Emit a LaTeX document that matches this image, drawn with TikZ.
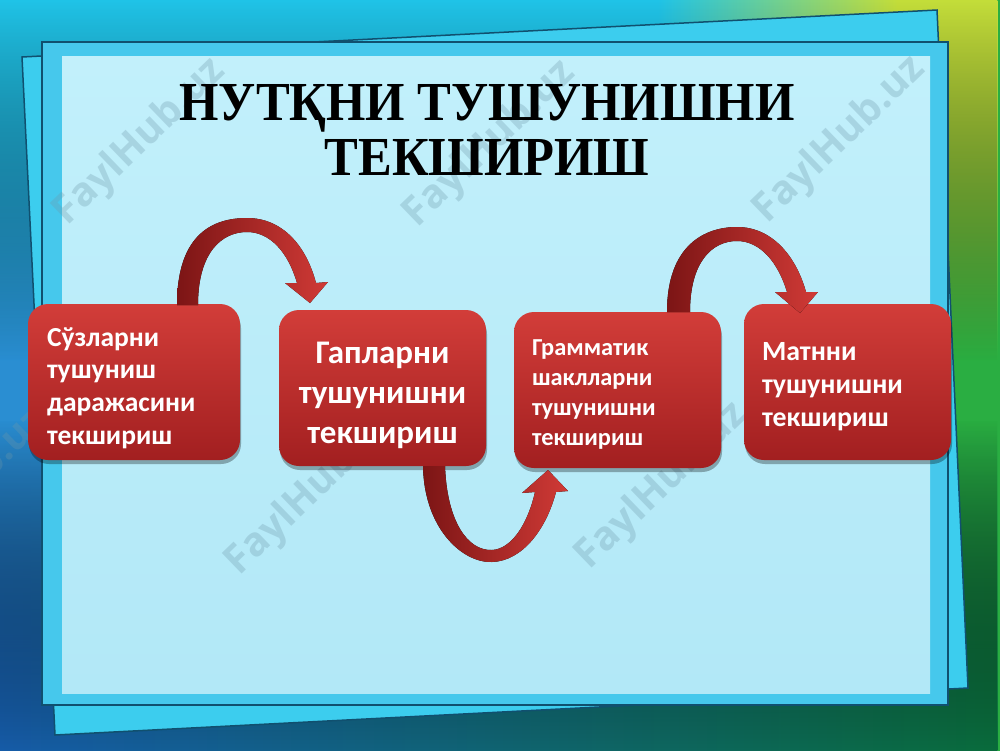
\documentclass[tikz,border=0pt]{standalone}
\usepackage{fontspec}
\setmainfont{Liberation Serif}
\newfontfamily\titlefont{Liberation Serif}[FakeStretch=0.92]
\newfontfamily\boxfont{Carlito}
\newfontfamily\wmfont{Open Sans}
\usetikzlibrary{shadows,fadings}
\definecolor{bgcyan}{HTML}{20C4E8}
\definecolor{bgyellow}{HTML}{C4DE3A}
\definecolor{bgblue}{HTML}{2A8ED2}
\definecolor{bggreen}{HTML}{2AAE42}
\definecolor{bgdblue}{HTML}{165CA8}
\definecolor{bgdgreen}{HTML}{0A6C3C}
\definecolor{sheetback}{HTML}{3CCDEE}
\definecolor{sheetline}{HTML}{10506F}
\definecolor{frameband}{HTML}{46C8EC}
\definecolor{paneltop}{HTML}{C2F0FB}
\definecolor{panelbot}{HTML}{B2E8F7}
\definecolor{boxtop}{HTML}{D23D39}
\definecolor{boxbot}{HTML}{A21F20}
\definecolor{arrdark}{HTML}{7C1515}
\definecolor{arrred}{HTML}{D03A36}
\definecolor{wmcolor}{HTML}{6E98AA}
\pgfdeclarehorizontalshading{topband}{100bp}{color(0bp)=(bgcyan); color(58bp)=(bgcyan); color(70bp)=(bgyellow); color(100bp)=(bgyellow)}
\pgfdeclarehorizontalshading{midband}{100bp}{color(0bp)=(bgblue); color(55bp)=(bgblue); color(70bp)=(bggreen); color(100bp)=(bggreen)}
\tikzset{
  redbox/.style={rectangle, rounded corners=20pt, top color=boxtop, bottom color=boxbot,
    draw=none, minimum height=156pt, inner sep=0pt,
    drop shadow={shadow xshift=1pt, shadow yshift=-4pt, opacity=0.3, fill=black}},
  boxtext/.style={text=white, inner sep=0pt},
  watermark/.style={rotate=44, text=wmcolor, opacity=0.3, font=\wmfont\bfseries\fontsize{40}{40}\selectfont},
  ribbon/.style={left color=arrdark, right color=arrred, draw=none}
}
\begin{document}
\begin{tikzpicture}[x=1pt,y=-1pt]
\useasboundingbox (0,0) rectangle (1000,750);
% background
\fill[shading=midband] (0,0) rectangle (1000,750);
\fill[shading=topband, path fading=south] (0,0) rectangle (1000,360);
\fill[left color=bgdblue, right color=bgdgreen, path fading=north] (0,420) rectangle (1000,750);
% back sheet
\filldraw[fill=sheetback, draw=sheetline, line width=1.5pt] (22,57) -- (937,10) -- (968,688) -- (55,735) -- cycle;
% front sheet
\filldraw[fill=frameband, draw=sheetline, line width=2pt] (42,42) rectangle (948,705);
\fill[top color=paneltop, bottom color=panelbot] (62,56) rectangle (930,693);
% watermarks
\node[watermark] (w1) at (140,142) {FaylHub.uz};
\node[watermark] (w2) at (490,144) {FaylHub.uz};
\node[watermark] (w3) at (840,140) {FaylHub.uz};
\node[watermark] (w4) at (-38,492) {FaylHub.uz};
\node[watermark] (w5) at (312,492) {FaylHub.uz};
\node[watermark] (w6) at (662,486) {FaylHub.uz};
% title
\node[align=center, inner sep=0pt, font=\titlefont\bfseries\fontsize{55}{55}\selectfont] (title) at (487,130)
  {НУТҚНИ ТУШУНИШНИ\\ТЕКШИРИШ};
% boxes
\node[redbox, minimum width=212pt] (b1) at (134,382) {};
\node[redbox, minimum width=207pt] (b2) at (382.5,388) {};
\node[redbox, minimum width=207pt] (b3) at (617.5,390) {};
\node[redbox, minimum width=207pt] (b4) at (847.5,382) {};
\node[boxtext, text width=174pt, align=left,
  font=\boxfont\bfseries\fontsize{27.5}{32.7}\selectfont] (t1) at (134,388)
  {Сўзларни\\тушуниш\\даражасини\\текшириш};
\node[boxtext, text width=195pt, align=center,
  font=\boxfont\bfseries\fontsize{33}{40}\selectfont] (t2) at (382.5,395)
  {Гапларни\\тушунишни\\текшириш};
\node[boxtext, text width=171pt, align=left,
  font=\boxfont\bfseries\fontsize{24.4}{30}\selectfont] (t3) at (617.5,394)
  {Грамматик\\шаклларни\\тушунишни\\текшириш};
\node[boxtext, text width=171pt, align=left,
  font=\boxfont\bfseries\fontsize{27.8}{33}\selectfont] (t4) at (847.5,387)
  {Матнни\\тушунишни\\текшириш};
% curved arrows
\coordinate (a1s) at (187,305);
\coordinate (a1t) at (310,303);
\fill[ribbon] (177,305) .. controls (177,232) and (215,218) .. (247,218)
  .. controls (282,218) and (306,245) .. (316,283) -- (328,282) -- (a1t) -- (285,283) -- (297,283)
  .. controls (288,252) and (270,232) .. (247,232)
  .. controls (222,232) and (198,252) .. (198,305) -- cycle;
\coordinate (a2s) at (434,466);
\coordinate (a2t) at (548,470);
\fill[ribbon] (423,466) .. controls (424,528) and (462,563) .. (492,562)
  .. controls (522,561) and (546,530) .. (556,492) -- (568,491) -- (a2t) -- (522,493) -- (535,492)
  .. controls (528,523) and (512,549) .. (492,550)
  .. controls (468,551) and (447,522) .. (445,466) -- cycle;
\coordinate (a3s) at (678,312);
\coordinate (a3t) at (800,313);
\fill[ribbon] (667,312) .. controls (667,245) and (705,227) .. (737,227)
  .. controls (772,227) and (796,256) .. (806,292) -- (818,292) -- (a3t) -- (775,292) -- (787,292)
  .. controls (778,262) and (760,241) .. (737,241)
  .. controls (712,241) and (690,262) .. (690,312) -- cycle;
\end{tikzpicture}
\end{document}
